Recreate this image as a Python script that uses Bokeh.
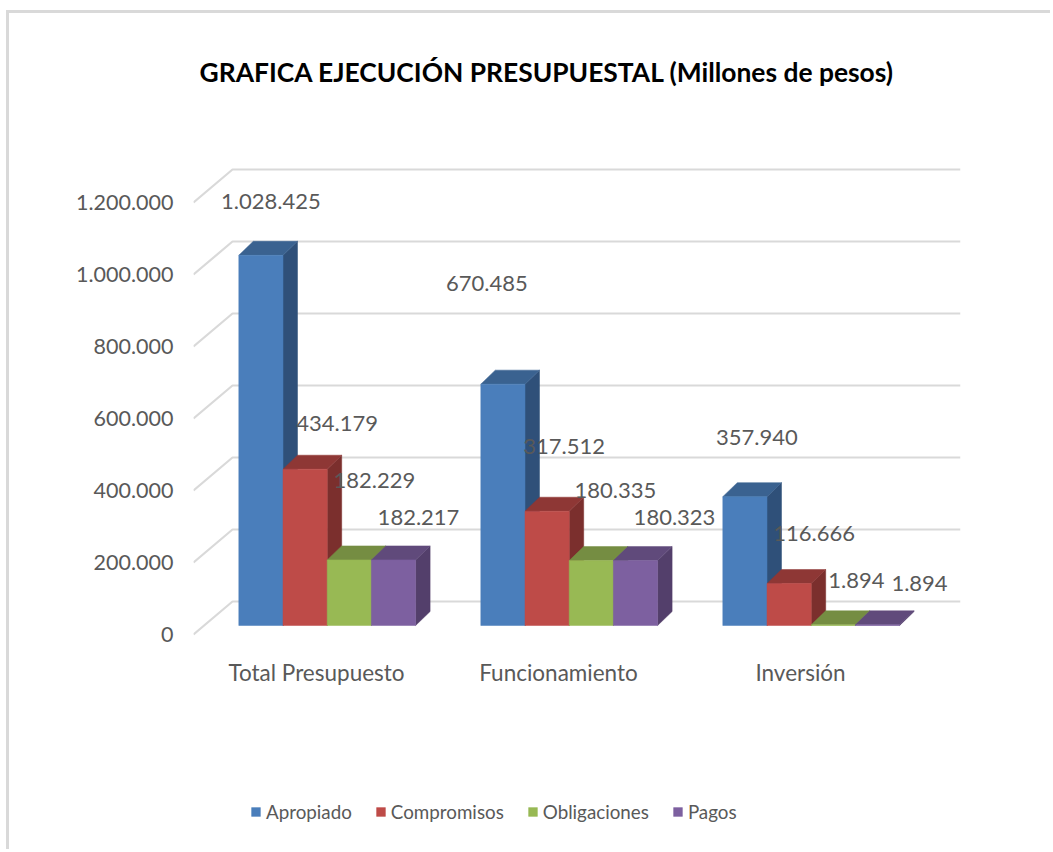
from bokeh.plotting import figure
from bokeh.models import (ColumnDataSource, FixedTicker, Legend, LegendItem, Range1d, Title)
from bokeh.embed import file_html
from bokeh.resources import INLINE

title_text = "GRAFICA EJECUCIÓN  PRESUPUESTAL (Millones de pesos)"
categories = ["Total Presupuesto", "Funcionamiento", "Inversión"]
series_names = ["Apropiado", "Compromisos", "Obligaciones", "Pagos"]
apropiado = [1028425, 670485, 357940]
compromisos = [434179, 317512, 116666]
obligaciones = [182229, 180335, 1894]
pagos = [182217, 180323, 1894]
y_ticks = [0, 200000, 400000, 600000, 800000, 1000000, 1200000]
y_tick_labels = ["0", "200.000", "400.000", "600.000", "800.000", "1.000.000", "1.200.000"]
data_label_texts = [
    ["1.028.425", "670.485", "357.940"],
    ["434.179", "317.512", "116.666"],
    ["182.229", "180.335", "1.894"],
    ["182.217", "180.323", "1.894"],
]

# --- styles and layout ---
front = ["#4A7EBB", "#BE4B48", "#98B954", "#7D60A0"]
top_c = ["#3A6290", "#8E3735", "#758D42", "#604A7B"]
side = ["#2F5079", "#7B2F2D", "#64783A", "#533F6B"]
label_dx = [[10, -16, 12], [32, 17, 25], [25, 24, 23], [25, 39, 42]]
label_dy = [[-54, -101, -59], [-46, -65, -50], [-79, -70, -44], [-42, -43, -41]]

PX_X = 242.0          # pixels per category
PX_Y = 72.0 / 200000  # pixels per value unit
FONT = "Lato"
TXT = "#595959"
GRID = "#D9D9D9"

OX, OY = 9, 13        # where the figure's canvas starts in the window
W, H = 1053 - OX, 852 - OY
L, R, T, B = 193 - OX, 1053 - 960, 149 - OY, 0
FW, FH = W - L - R, H - T - B

x0 = -(316 - 193) / PX_X
y0 = -(852 - 634) / PX_Y

p = figure(width=W, height=H, output_backend="svg", toolbar_location=None,
           x_range=Range1d(x0, x0 + FW / PX_X), y_range=Range1d(y0, y0 + FH / PX_Y),
           min_border_left=L, min_border_right=R, min_border_top=T, min_border_bottom=B,
           outline_line_color=None, margin=(10, 0, 0, 6),
           styles={"border-left": f"3px solid {GRID}", "border-top": f"3px solid {GRID}"})
p.xgrid.visible = False
p.ygrid.visible = False

p.yaxis.ticker = FixedTicker(ticks=y_ticks)
p.yaxis.major_label_overrides = {t: s for t, s in zip(y_ticks, y_tick_labels)}
p.xaxis.visible = False
for ax in (p.yaxis[0],):
    ax.axis_line_color = None
    ax.major_tick_line_color = None
    ax.minor_tick_line_color = None
    ax.major_label_text_font = FONT
    ax.major_label_text_color = TXT
p.yaxis.major_label_text_font_size = "21.5px"
p.yaxis.major_label_standoff = 14

# wall / gridlines: diagonal at left then horizontal along the back wall
wall_dx = 39 / PX_X
wall_dy = 33 / PX_Y
x_right = x0 + FW / PX_X
for t in y_ticks:
    p.line([x0, x0 + wall_dx, x_right], [t, t + wall_dy, t + wall_dy], line_color=GRID, line_width=2.2)

bar_w = 44.2 / PX_X
depth_x = 14.5 / PX_X
depth_y = 14 / PX_Y
base = 9 / PX_Y      # front plane of the bars above axis zero
shift = 10.7 / PX_X
series = [apropiado, compromisos, obligaciones, pagos]

legend_items = []
for j, vals in enumerate(series):
    xc = [i + shift + (j - 1.5) * bar_w for i in range(3)]
    xl = [x - bar_w / 2 for x in xc]
    xr = [x + bar_w / 2 for x in xc]
    tops = [v + base for v in vals]
    p.patches([[r, r + depth_x, r + depth_x, r] for r in xr],
              [[base, base + depth_y, t + depth_y, t] for t in tops],
              fill_color=side[j], line_color=side[j], line_width=0.5)
    p.patches([[a, a + depth_x, b + depth_x, b] for a, b in zip(xl, xr)],
              [[t, t + depth_y, t + depth_y, t] for t in tops],
              fill_color=top_c[j], line_color=top_c[j], line_width=0.5)
    r = p.vbar(x=xc, width=bar_w, bottom=base, top=tops, fill_color=front[j], line_color=front[j], line_width=0.5)
    legend_items.append(LegendItem(label=series_names[j], renderers=[r]))

for j, vals in enumerate(series):
    src = ColumnDataSource(dict(
        x=[i + shift + (j - 1.5) * bar_w for i in range(3)],
        y=[v + base for v in vals],
        t=data_label_texts[j],
        dx=label_dx[j],
        dy=label_dy[j],
    ))
    p.text(x="x", y="y", text="t", source=src, x_offset="dx", y_offset="dy",
           text_font={"value": FONT}, text_font_size={"value": "22px"},
           text_color=TXT, text_align="center", text_baseline="middle")

# category labels sit just under the floor of the chart
cat_src = ColumnDataSource(dict(x=[0, 1, 2], y=[0, 0, 0], t=categories))
p.text(x="x", y="y", text="t", source=cat_src, y_offset=38,
       text_font={"value": FONT}, text_font_size={"value": "22.5px"},
       text_color=TXT, text_align="center", text_baseline="middle")

legend = Legend(items=legend_items, orientation="horizontal", location=(57, 29),
                border_line_color=None, background_fill_alpha=0, label_text_font=FONT,
                label_text_font_size="18.8px", label_text_color=TXT, glyph_width=11, glyph_height=11,
                label_standoff=5, spacing=23, padding=0, margin=0)
p.add_layout(legend, "center")

# blank spacer that lifts the title away from the plot area
p.add_layout(Title(text=" ", standoff=49, text_font_size="10px"), "above")
p.title = Title(text=title_text, align="left", offset=6, standoff=0, text_font="Lato",
                text_font_size="26.4px", text_font_style="bold", text_color="#000000")

open("out.html", "w").write(file_html(p, INLINE))
